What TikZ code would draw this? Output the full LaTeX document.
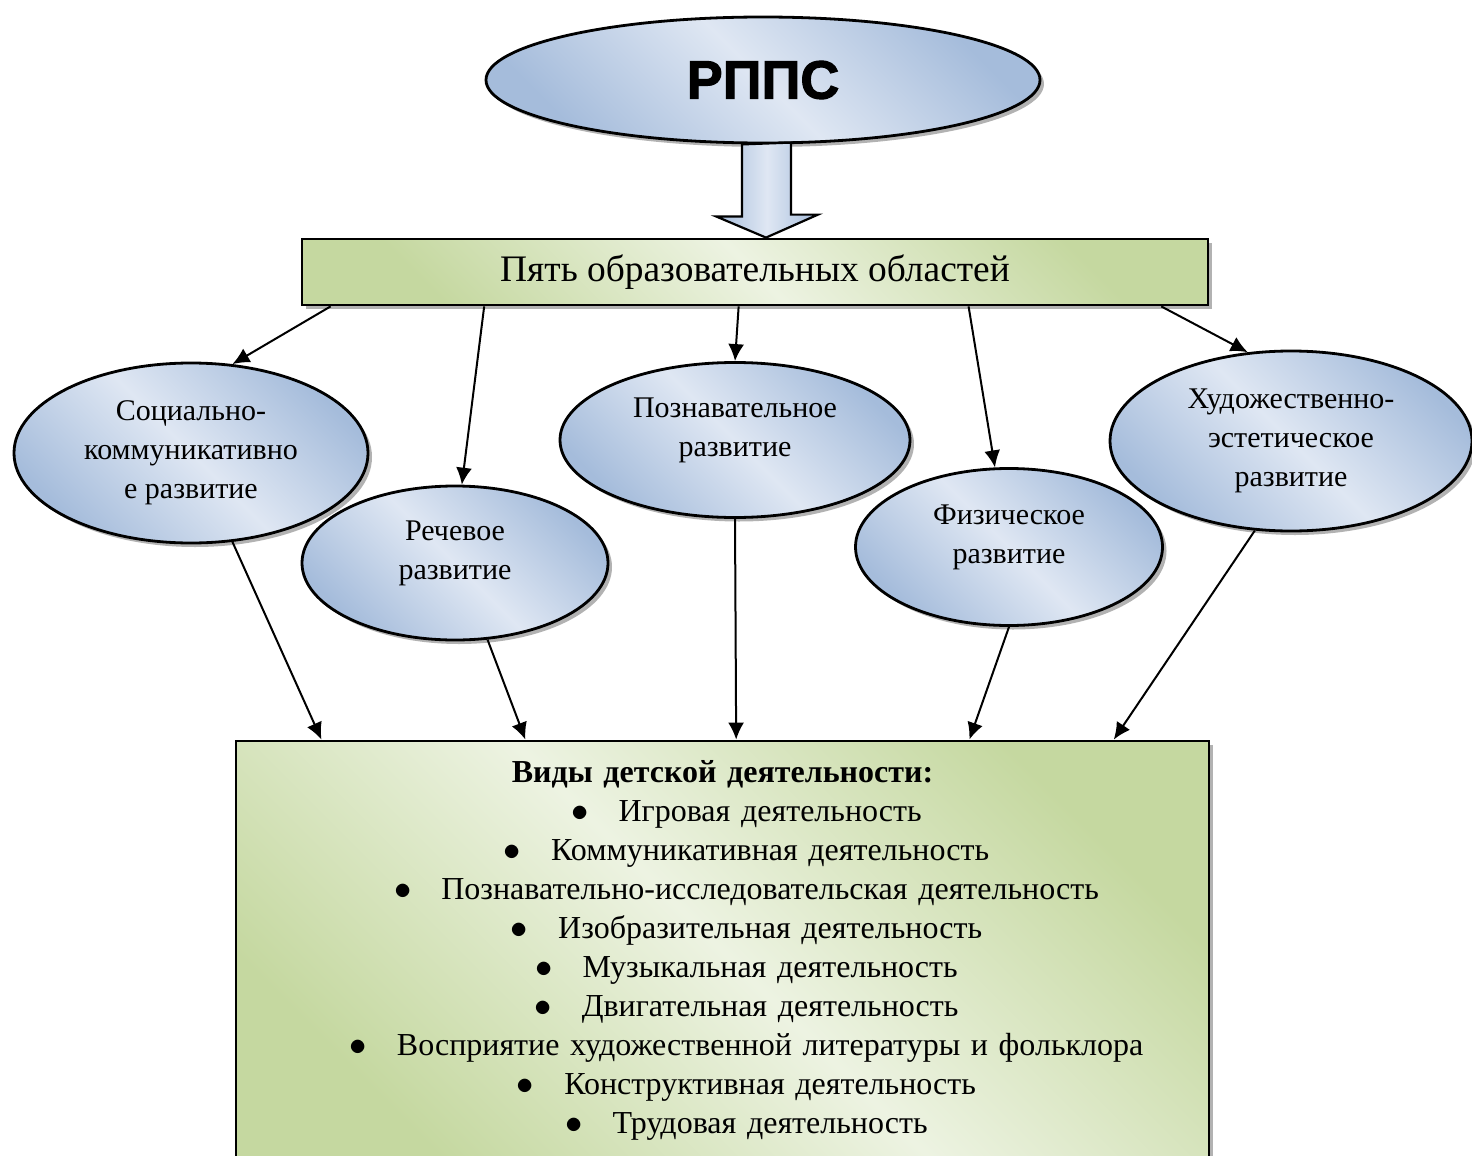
\documentclass[tikz,border=0pt]{standalone}
\usepackage{fontspec}
\setmainfont{Liberation Serif}
\newfontfamily\headfont[BoldFeatures={FakeBold=2}]{Liberation Sans}
\usetikzlibrary{shapes.geometric,shadows,calc,arrows.meta}

\definecolor{bluedark}{RGB}{165,188,219}
\definecolor{bluelight}{RGB}{223,231,243}
\definecolor{greendark}{RGB}{197,216,160}
\definecolor{greenlight}{RGB}{237,243,226}

\tikzset{
  area/.style={ellipse, draw, line width=1.4pt, top color=bluedark, bottom color=bluedark,
    middle color=bluelight, shading angle=-45, inner sep=0pt, align=center,
    drop shadow={shadow xshift=2pt, shadow yshift=-2pt, fill=black!60},
    font=\fontsize{15}{19.5}\selectfont},
  lifted/.style={text depth=13pt},
  panel/.style={rectangle, draw, line width=1.4pt, top color=greendark, bottom color=greendark,
    middle color=greenlight, shading angle=-45, inner sep=0pt,
    drop shadow={shadow xshift=2pt, shadow yshift=-2pt, fill=black!60}},
  link/.style={line width=1pt, ->}
}
\newcommand{\actline}[1]{\hspace*{24pt}$\bullet$\hspace{15pt}#1}

\begin{document}
\begin{tikzpicture}[x=0.5pt, y=-0.5pt, >={Latex[length=8.5pt,width=8pt]}]
\useasboundingbox (0,0) rectangle (1472,1156);
\clip (0,0) rectangle (1472,1156);
\node[area, minimum width=277pt, minimum height=63pt, font=\headfont\bfseries\fontsize{27}{30}\selectfont] (rpps) at (763,80) {РППС};
\node[panel, minimum width=453pt, minimum height=33pt, font=\fontsize{18.7}{22}\selectfont] (areas) at (755,272) {Пять образовательных областей};
\node[panel, minimum width=486.5pt, minimum height=209.5pt, text width=480pt, align=center, font=\fontsize{16}{19.5}\selectfont] (kinds) at (722.5,950.5) {\textbf{Виды детской деятельности:}\\
  \actline{Игровая деятельность}\\
  \actline{Коммуникативная деятельность}\\
  \actline{Познавательно-исследовательская деятельность}\\
  \actline{Изобразительная деятельность}\\
  \actline{Музыкальная деятельность}\\
  \actline{Двигательная деятельность}\\
  \actline{Восприятие художественной литературы и фольклора}\\
  \actline{Конструктивная деятельность}\\
  \actline{Трудовая деятельность}};
\node[area, minimum width=177pt, minimum height=90pt] (soc) at (191,453) {Социально-\\коммуникативно\\е развитие};
\node[area, lifted, minimum width=175pt, minimum height=77.5pt] (cog) at (735,440) {Познавательное\\развитие};
\node[area, minimum width=181pt, minimum height=90pt] (art) at (1291,441) {Художественно-\\эстетическое\\развитие};
\node[area, lifted, minimum width=153pt, minimum height=77pt] (speech) at (455,563) {Речевое\\развитие};
\node[area, lifted, minimum width=153.5pt, minimum height=78.5pt] (phys) at (1009,547) {Физическое\\развитие};
% block arrow
\shade[draw, line width=1.1pt, left color=bluedark, right color=bluedark, middle color=bluelight]
  ($(rpps.south)+(-21,0)$) -- ++(0,72) -- ++(-26,0) -- ($(areas.north)+(11,0)$)
  -- ++(52,-23) -- ++(-27,0) -- ++(0,-72) -- cycle;
\draw[link] ($(areas.south west)!.033!(areas.south east)$) -- (soc.65);
\draw[link] ($(areas.south west)!.202!(areas.south east)$) -- (speech.85);
\draw[link] ($(areas.south west)!.482!(areas.south east)$) -- (cog.north);
\draw[link] ($(areas.south west)!.735!(areas.south east)$) -- (phys.100);
\draw[link] ($(areas.south west)!.947!(areas.south east)$) -- (art.116);
\draw[link] (soc.-65) -- ($(kinds.north west)!.089!(kinds.north east)$);
\draw[link] (speech.-67) -- ($(kinds.north west)!.298!(kinds.north east)$);
\draw[link] (cog.south) -- ($(kinds.north west)!.514!(kinds.north east)$);
\draw[link] (phys.south) -- ($(kinds.north west)!.753!(kinds.north east)$);
\draw[link] (art.-112) -- ($(kinds.north west)!.901!(kinds.north east)$);
\end{tikzpicture}
\end{document}
